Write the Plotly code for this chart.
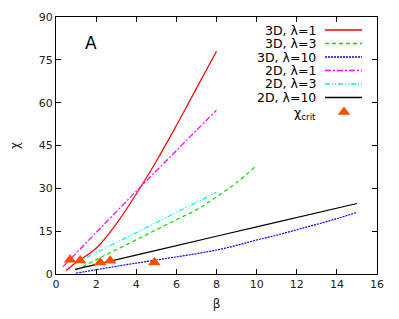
import plotly.graph_objects as go

# ---- data ----
beta_3d_l1 = [0.5, 1, 2, 3, 4, 5, 6, 7, 8]
chi_3d_l1 = [1.2, 4.0, 9.0, 17.5, 28.0, 39.5, 52.0, 65.0, 78.0]

beta_3d_l3 = [1, 2, 3, 4, 5, 6, 7, 8, 9, 10]
chi_3d_l3 = [1.4, 5.0, 8.5, 12.0, 15.5, 19.0, 22.5, 27.0, 32.0, 38.0]

beta_3d_l10 = [1, 2, 3, 4, 5, 6, 7, 8, 9, 10, 11, 12, 13, 14, 15]
chi_3d_l10 = [0.3, 1.5, 2.7, 3.8, 4.9, 6.0, 7.1, 8.4, 10.0, 11.9, 13.6, 15.5, 17.4, 19.4, 21.6]

beta_2d_l1 = [0.35, 2, 4, 6, 8]
chi_2d_l1 = [2.6, 14.5, 29.0, 43.2, 57.4]

beta_2d_l3 = [0.95, 4, 8]
chi_2d_l3 = [3.8, 14.5, 28.6]

beta_2d_l10 = [0.95, 5, 10, 15]
chi_2d_l10 = [1.6, 8.3, 16.5, 24.7]

beta_crit = [0.7, 1.2, 2.2, 2.7, 4.9]
chi_crit = [5.0, 4.7, 4.0, 4.6, 4.0]

x_ticks = [0, 2, 4, 6, 8, 10, 12, 14, 16]
y_ticks = [0, 15, 30, 45, 60, 75, 90]

legend_names = ["3D, λ=1", "3D, λ=3", "3D, λ=10", "2D, λ=1", "2D, λ=3", "2D, λ=10", "χ<sub>crit</sub>"]

FONT = "DejaVu Sans"

series = [
    (beta_3d_l1, chi_3d_l1, "#ff0000", "solid"),
    (beta_3d_l3, chi_3d_l3, "#00e000", "4px,3px"),
    (beta_3d_l10, chi_3d_l10, "#0000ff", "2px,1px"),
    (beta_2d_l1, chi_2d_l1, "#ff00ff", "6px,2px,2px,2px"),
    (beta_2d_l3, chi_2d_l3, "#00f0f0", "5px,2px,1px,2px,1px,2px"),
    (beta_2d_l10, chi_2d_l10, "#000000", "solid"),
]

fig = go.Figure()
for (xs, ys, col, dash), name in zip(series, legend_names):
    fig.add_trace(go.Scatter(x=xs, y=ys, mode="lines", name=name,
                             line=dict(color=col, width=1.2, dash=dash, shape="spline"),
                             showlegend=False))
fig.add_trace(go.Scatter(x=beta_crit, y=chi_crit, mode="markers", name="χcrit",
                         marker=dict(symbol="triangle-up", size=11, color="#ff4d00"),
                         showlegend=False))

# manual legend (text right-aligned, sample on the right), in paper coordinates
W, H = 399, 319
L, R, T, B = 56, 22, 17, 45
pw, ph = W - L - R, H - T - B

def px(x):
    return (x - L) / pw

def py(y):
    return 1 - (y - T) / ph

row_y = [30, 43.5, 57, 70.5, 84, 97.5, 113]
shapes = []
annotations = []
for i, (name, yy) in enumerate(zip(legend_names, row_y)):
    annotations.append(dict(x=px(318), y=py(yy), xref="paper", yref="paper",
                            text=name, showarrow=False, xanchor="right", yanchor="middle",
                            font=dict(family=FONT, size=12.5, color="#000")))
    if i < 6:
        col, dash = series[i][2], series[i][3]
        shapes.append(dict(type="line", xref="paper", yref="paper",
                           x0=px(325), x1=px(362), y0=py(yy), y1=py(yy),
                           line=dict(color=col, width=1.5, dash=dash)))

annotations.append(dict(x=px(91), y=py(43), xref="paper", yref="paper", text="A",
                        showarrow=False, xanchor="center", yanchor="middle",
                        font=dict(family=FONT, size=17, color="#000")))

fig.add_trace(go.Scatter(x=[px(344)], y=[py(112)], xaxis="x2", yaxis="y2",
                         mode="markers", marker=dict(symbol="triangle-up", size=11, color="#ff4d00"),
                         showlegend=False, hoverinfo="skip"))

axis_common = dict(showgrid=False, zeroline=False, showline=True, linecolor="#000", linewidth=1,
                   mirror="ticks", ticks="inside", ticklen=5, tickcolor="#000", automargin=False,
                   tickfont=dict(family=FONT, size=11, color="#222"))

fig.update_layout(
    width=W, height=H,
    margin=dict(l=L, r=R, t=T, b=B),
    paper_bgcolor="white", plot_bgcolor="white",
    xaxis=dict(range=[0, 16], tickvals=x_ticks, title=dict(text="β", standoff=9,
               font=dict(family=FONT, size=12, color="#222")), **axis_common),
    yaxis=dict(range=[0, 90], tickvals=y_ticks, title=dict(text="χ", standoff=16,
               font=dict(family=FONT, size=12, color="#222")), **axis_common),
    xaxis2=dict(range=[0, 1], visible=False, overlaying="x"),
    yaxis2=dict(range=[0, 1], visible=False, overlaying="y"),
    shapes=shapes,
    annotations=annotations,
    showlegend=False,
)

fig.write_html("out.html", config={"displayModeBar": False},
               post_script="document.body.style.margin='0';")
